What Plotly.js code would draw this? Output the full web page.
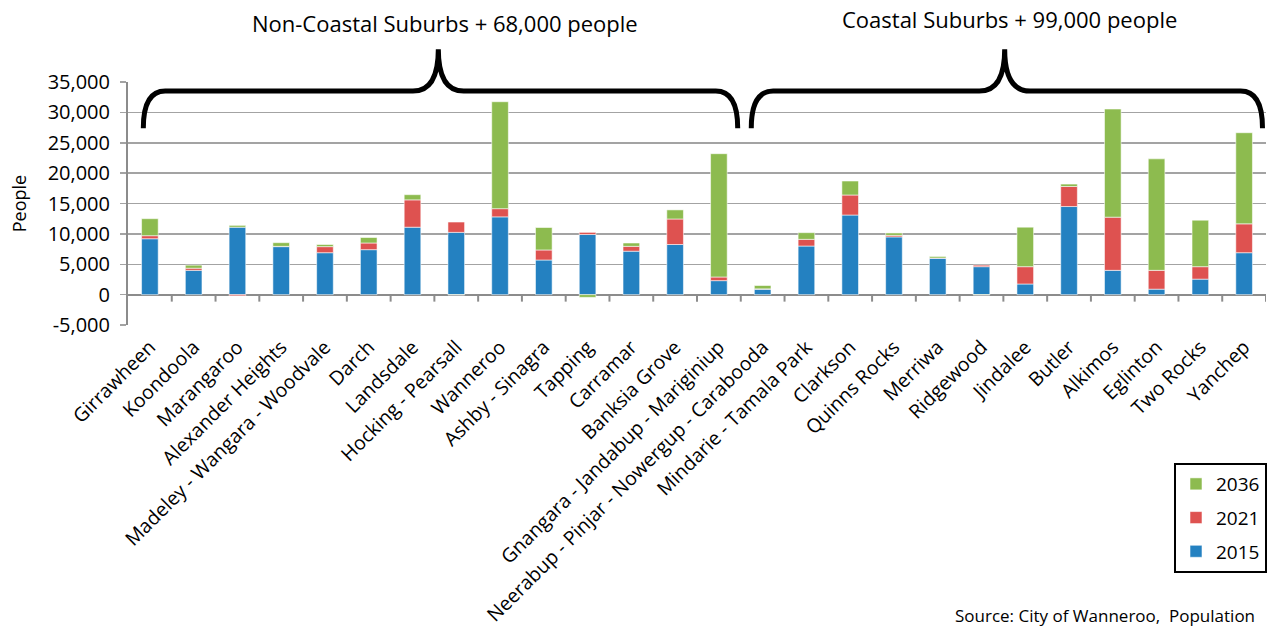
<!DOCTYPE html>
<html>
<head>
<meta charset="utf-8">
<script src="https://cdn.plot.ly/plotly-3.0.1.min.js"></script>
<style>
  html, body { margin: 0; padding: 0; overflow: hidden; background: #ffffff; }
  #chart { width: 1267px; height: 635px; }
</style>
</head>
<body>
<div id="chart"></div>
<script>
// ---- Data ----
const categories = [
  'Girrawheen', 'Koondoola', 'Marangaroo', 'Alexander Heights',
  'Madeley - Wangara - Woodvale', 'Darch', 'Landsdale', 'Hocking - Pearsall',
  'Wanneroo', 'Ashby - Sinagra', 'Tapping', 'Carramar', 'Banksia Grove',
  'Gnangara - Jandabup - Mariginiup', 'Neerabup - Pinjar - Nowergup - Carabooda',
  'Mindarie - Tamala Park', 'Clarkson', 'Quinns Rocks', 'Merriwa', 'Ridgewood',
  'Jindalee', 'Butler', 'Alkimos', 'Eglinton', 'Two Rocks', 'Yanchep'
];
const pop2015 = [9200, 4000, 11100, 7900, 6900, 7400, 11100, 10250, 12800, 5700, 9900, 7150, 8250,
                 2300, 900, 8000, 13100, 9500, 6000, 4600, 1750, 14500, 4000, 900, 2550, 6900];
const growth2021 = [500, 350, -200, 50, 1000, 1100, 4500, 1700, 1350, 1650, 350, 800, 4200,
                    600, 50, 1100, 3300, 250, 30, 250, 2850, 3300, 8750, 3100, 2050, 4750];
const growth2036 = [2800, 500, 300, 600, 350, 900, 850, -50, 17600, 3700, -450, 550, 1500,
                    20300, 550, 1100, 2300, 400, 250, -60, 6500, 400, 17800, 18350, 7650, 15000];
const seriesNames = ['2015', '2021', '2036'];
const yTickVals = [-5000, 0, 5000, 10000, 15000, 20000, 25000, 30000, 35000];
const yTickText = ['-5,000', '0', '5,000', '10,000', '15,000', '20,000', '25,000', '30,000', '35,000'];
const groupTitles = ['Non-Coastal Suburbs + 68,000 people', 'Coastal Suburbs + 99,000 people'];
const sourceText = 'Source: City of Wanneroo,  Population';

// ---- Style ----
const FONT = '"Open Sans", "Noto Sans", sans-serif';
const colors = ['#2481C1', '#DE5250', '#8DBB4F'];
const gridColor = '#a3a3a3';
const X_RANGE = [-0.5, categories.length - 0.5];
const Y_RANGE = [-5000, 35000];

const seriesValues = [pop2015, growth2021, growth2036];
const traces = seriesValues.map((vals, i) => ({
  type: 'bar',
  name: seriesNames[i],
  x: categories,
  y: vals,
  legendgroup: 'g' + i,
  legendrank: 10 - i,
  marker: { color: colors[i], line: { color: 'rgba(255,255,255,0.55)', width: 1 } },
  hoverinfo: 'x+y+name'
}));

// helpers mapping axis units to paper units (for decorations outside the plot area)
const xp = v => (v - X_RANGE[0]) / (X_RANGE[1] - X_RANGE[0]);
const yp = v => (v - Y_RANGE[0]) / (Y_RANGE[1] - Y_RANGE[0]);

function bracePath(x0, x1, xm, yTip, yLine, yPeak, c, p) {
  const P = (x, y) => xp(x).toFixed(5) + ',' + yp(y).toFixed(5);
  return 'M' + P(x0, yTip) +
    ' Q' + P(x0, yLine) + ' ' + P(x0 + c, yLine) +
    ' L' + P(xm - p, yLine) +
    ' Q' + P(xm, yLine) + ' ' + P(xm, yPeak) +
    ' Q' + P(xm, yLine) + ' ' + P(xm + p, yLine) +
    ' L' + P(x1 - c, yLine) +
    ' Q' + P(x1, yLine) + ' ' + P(x1, yTip);
}

const shapes = [];
// braces
shapes.push({
  type: 'path', xref: 'paper', yref: 'paper',
  path: bracePath(-0.15, 13.43, 6.59, 27400, 33500, 40400, 0.5, 0.58),
  line: { color: '#000000', width: 5 }, fillcolor: 'rgba(0,0,0,0)'
});
shapes.push({
  type: 'path', xref: 'paper', yref: 'paper',
  path: bracePath(13.74, 25.42, 19.53, 27400, 33500, 40400, 0.5, 0.58),
  line: { color: '#000000', width: 5 }, fillcolor: 'rgba(0,0,0,0)'
});
// category tick marks hanging from the zero line
const tickDrop = 7 / 243 * (Y_RANGE[1] - Y_RANGE[0]);
for (let i = 0; i < categories.length; i++) {
  shapes.push({
    type: 'line', xref: 'x', yref: 'y',
    x0: i + 0.5, x1: i + 0.5, y0: 0, y1: -tickDrop,
    line: { color: '#8c8c8c', width: 2 }, layer: 'above'
  });
}

const annotations = [
  { text: groupTitles[0], xref: 'x', yref: 'paper', x: 6.75, y: yp(40700) + 0.10,
    xanchor: 'center', yanchor: 'middle', showarrow: false,
    font: { family: FONT, size: 22, color: '#000000' } },
  { text: groupTitles[1], xref: 'x', yref: 'paper', x: 19.64, y: yp(40700) + 0.115,
    xanchor: 'center', yanchor: 'middle', showarrow: false,
    font: { family: FONT, size: 22, color: '#000000' } },
  { text: sourceText, xref: 'paper', yref: 'paper', x: 0.725, y: -1.195,
    xanchor: 'left', yanchor: 'middle', showarrow: false,
    font: { family: FONT, size: 17, color: '#000000' } }
];

const layout = {
  width: 1267, height: 635,
  margin: { l: 128, r: 0, t: 82, b: 310, pad: 0 },
  paper_bgcolor: '#ffffff', plot_bgcolor: '#ffffff',
  font: { family: FONT, size: 19, color: '#000000' },
  barmode: 'relative',
  bargap: 0.62,
  showlegend: true,
  legend: {
    x: 0.919, y: -0.568, xanchor: 'left', yanchor: 'top',
    traceorder: 'grouped', tracegroupgap: 6,
    bordercolor: '#000000', borderwidth: 2, bgcolor: '#ffffff',
    font: { family: FONT, size: 19, color: '#000000' }
  },
  xaxis: {
    type: 'category', range: X_RANGE, fixedrange: true,
    showgrid: false, showline: false, zeroline: false,
    ticks: '', tickangle: -45, ticklabelstandoff: 6,
    tickfont: { family: FONT, size: 19.5, color: '#000000' },
    automargin: false
  },
  yaxis: {
    range: Y_RANGE, fixedrange: true,
    tickmode: 'array', tickvals: yTickVals, ticktext: yTickText,
    showgrid: true, gridcolor: gridColor, gridwidth: 1.5,
    zeroline: true, zerolinecolor: '#8c8c8c', zerolinewidth: 2,
    showline: true, linecolor: '#8c8c8c', linewidth: 2,
    ticks: 'outside', ticklen: 6, tickcolor: gridColor, tickwidth: 1.5,
    ticklabelstandoff: 6,
    tickfont: { family: FONT, size: 20, color: '#000000' },
    title: { text: 'People', font: { family: FONT, size: 18, color: '#000000' }, standoff: 16 },
    automargin: false
  },
  shapes: shapes,
  annotations: annotations
};

Plotly.newPlot('chart', traces, layout, { displayModeBar: false, staticPlot: true });
</script>
</body>
</html>
